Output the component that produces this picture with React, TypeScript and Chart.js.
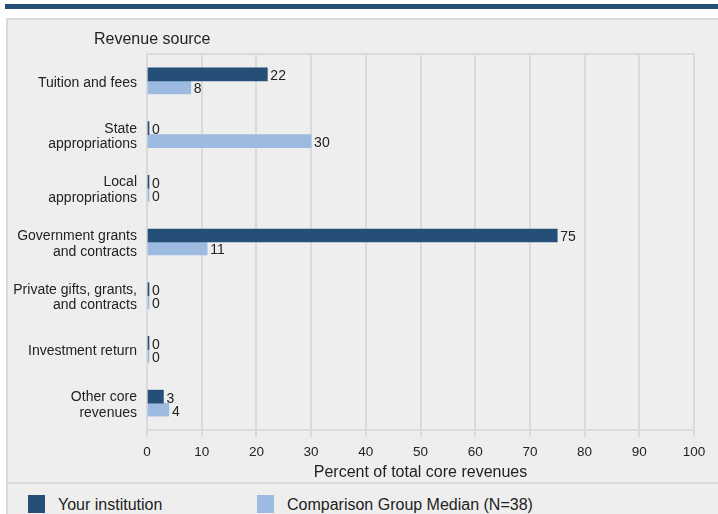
import React, { useEffect, useRef } from "react";
import { Chart, registerables } from "chart.js";

Chart.register(...registerables);

const categories: (string | string[])[] = [
  "Tuition and fees",
  ["State", "appropriations"],
  ["Local", "appropriations"],
  ["Government grants", "and contracts"],
  ["Private gifts, grants,", "and contracts"],
  "Investment return",
  ["Other core", "revenues"],
];
const yourInstitution = [22, 0, 0, 75, 0, 0, 3];
const comparisonMedian = [8, 30, 0, 11, 0, 0, 4];
const xTicks = [0, 10, 20, 30, 40, 50, 60, 70, 80, 90, 100];
const seriesNames = ["Your institution", "Comparison Group Median (N=38)"];
const seriesColors = ["#264f78", "#9dbbe0"];
const yTitle = "Revenue source";
const xTitle = "Percent of total core revenues";

const FONT = "Arial, 'Liberation Sans', Helvetica, sans-serif";
const GRID = "#dadada";
const TEXT = "#222222";

export default function App() {
  const ref = useRef<HTMLCanvasElement | null>(null);

  useEffect(() => {
    if (!ref.current) return;
    const extras = {
      id: "extras",
      afterDatasetsDraw(chart: any) {
        const ctx = chart.ctx;
        ctx.save();
        ctx.font = `14px ${FONT}`;
        ctx.fillStyle = TEXT;
        ctx.textAlign = "left";
        ctx.textBaseline = "middle";
        chart.data.datasets.forEach((ds: any, i: number) => {
          const meta = chart.getDatasetMeta(i);
          meta.data.forEach((bar: any, j: number) => {
            ctx.fillText(String(ds.data[j]), bar.x + 3, bar.y + 2);
          });
        });
        ctx.restore();
      },
      afterDraw(chart: any) {
        const ctx = chart.ctx;
        const a = chart.chartArea;
        ctx.save();
        ctx.strokeStyle = GRID;
        ctx.lineWidth = 2;
        ctx.beginPath();
        ctx.moveTo(a.left - 1, a.top);
        ctx.lineTo(a.right + 1, a.top);
        ctx.stroke();
        ctx.font = `16px ${FONT}`;
        ctx.fillStyle = TEXT;
        ctx.textAlign = "left";
        ctx.textBaseline = "middle";
        ctx.fillText(yTitle, 85, 19);
        ctx.restore();
      },
    };
    const chart = new Chart(ref.current, {
      type: "bar",
      data: {
        labels: categories,
        datasets: [
          {
            label: seriesNames[0],
            data: yourInstitution,
            backgroundColor: seriesColors[0],
            barThickness: 13,
            minBarLength: 2,
          },
          {
            label: seriesNames[1],
            data: comparisonMedian,
            backgroundColor: seriesColors[1],
            barThickness: 13,
            minBarLength: 2,
          },
        ],
      },
      options: {
        indexAxis: "y",
        animation: false,
        responsive: false,
        maintainAspectRatio: false,
        layout: { padding: { top: 33, right: 24, left: 0, bottom: 0 } },
        plugins: {
          legend: { display: false },
          tooltip: { enabled: false },
        },
        scales: {
          x: {
            min: 0,
            max: 100,
            afterBuildTicks: (scale: any) => {
              scale.ticks = xTicks.map((v) => ({ value: v }));
            },
            afterFit: (scale: any) => {
              scale.height = 53;
            },
            grid: {
              color: GRID,
              lineWidth: 2,
              tickLength: 7,
              drawTicks: true,
            },
            border: { display: true, color: GRID, width: 2 },
            ticks: {
              color: TEXT,
              font: { family: FONT, size: 13.5 },
              padding: 7,
              maxRotation: 0,
            },
            title: {
              display: true,
              text: xTitle,
              color: TEXT,
              font: { family: FONT, size: 16 },
              padding: { top: 2, bottom: 1 },
            },
          },
          y: {
            afterFit: (scale: any) => {
              scale.width = 138;
            },
            grid: { display: false, drawTicks: false },
            border: { display: true, color: GRID, width: 2 },
            ticks: {
              color: TEXT,
              font: { family: FONT, size: 14, lineHeight: 1.1 },
              padding: 10,
              labelOffset: 2,
              autoSkip: false,
            },
          },
        },
      },
      plugins: [extras],
    } as any);
    return () => chart.destroy();
  }, []);

  return (
    <div
      style={{
        position: "absolute",
        left: 0,
        top: 0,
        width: 718,
        height: 514,
        background: "#ffffff",
        overflow: "hidden",
        fontFamily: FONT,
      }}
    >
      <div
        style={{
          position: "absolute",
          left: 5,
          top: 4,
          width: 713,
          height: 5,
          background: "#264f78",
        }}
      />
      <div
        style={{
          position: "absolute",
          left: 6,
          top: 18,
          width: 712,
          height: 496,
          background: "#eeeeee",
          borderTop: `2px solid ${GRID}`,
          borderLeft: `2px solid ${GRID}`,
          boxSizing: "border-box",
        }}
      />
      <canvas
        ref={ref}
        width={709}
        height={462}
        style={{ position: "absolute", left: 9, top: 21, width: 709, height: 462 }}
      />
      <div
        style={{
          position: "absolute",
          left: 7,
          top: 482,
          width: 711,
          height: 2,
          background: GRID,
        }}
      />
      {seriesNames.map((name, i) => (
        <div
          key={name}
          style={{
            position: "absolute",
            left: i === 0 ? 28 : 257,
            top: 494,
            height: 19,
            display: "flex",
            alignItems: "center",
            whiteSpace: "nowrap",
          }}
        >
          <div
            style={{
              width: 17,
              height: 18,
              background: seriesColors[i],
              marginRight: 13,
            }}
          />
          <span style={{ fontSize: 16, color: TEXT, position: "relative", top: 1 }}>{name}</span>
        </div>
      ))}
    </div>
  );
}
